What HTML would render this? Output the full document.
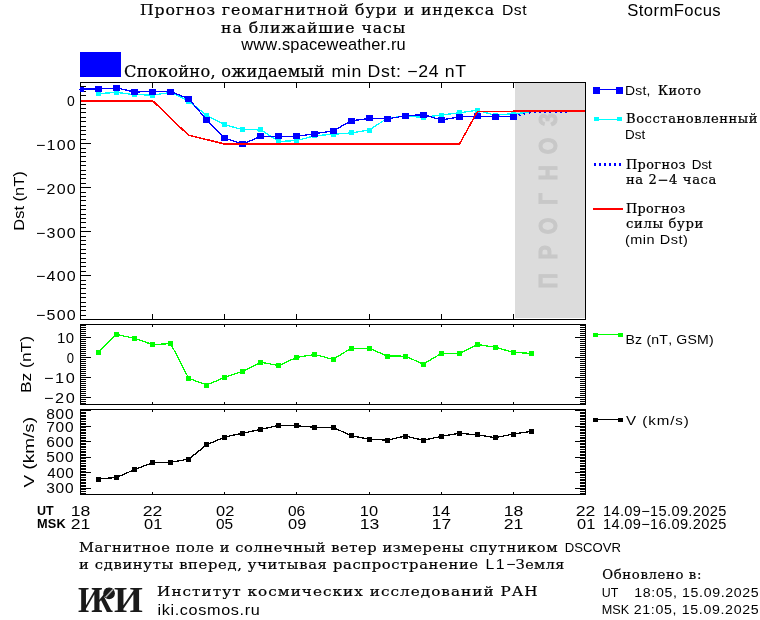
<!DOCTYPE html>
<html><head><meta charset="utf-8"><title>StormFocus</title>
<style>html,body{margin:0;padding:0;background:#fff;width:760px;height:620px;overflow:hidden}svg{display:block}text{font-kerning:none}</style>
</head><body>
<svg width="760" height="620" viewBox="0 0 760 620" shape-rendering="crispEdges">
<rect x="0" y="0" width="760" height="620" fill="#fff"/>
<rect x="515" y="83" width="70" height="235" fill="#dcdcdc"/>
<text transform="translate(557,288) rotate(-90) scale(0.82,1)" x="8.84 43.54 75.73 108.54 140.55 173.17 205.49" y="0" text-anchor="middle" font-family="Liberation Sans, sans-serif" font-weight="bold" font-size="26" fill="#c8c8c8" stroke="#c8c8c8" stroke-width="1">ПРОГНОЗ</text>
<defs><clipPath id="cd"><rect x="80" y="82" width="506" height="238"/></clipPath></defs>
<g clip-path="url(#cd)">
<polyline points="98.5,93.6 116.5,92.4 134.6,94.7 152.6,95.0 170.7,92.5 188.7,101.0 206.7,115.5 224.8,124.7 242.8,129.7 260.9,129.9 278.9,141.5 296.9,140.5 315.0,135.7 333.0,134.3 351.1,132.9 369.1,130.0 387.1,118.4 405.2,116.0 423.2,117.4 441.3,115.0 459.3,112.8 477.3,110.3 495.4,115.3 513.4,113.5 531.5,112.5" fill="none" stroke="#00ffff" stroke-width="1.3"/>
<rect x="96" y="91" width="5" height="5" fill="#00ffff"/>
<rect x="114" y="90" width="5" height="5" fill="#00ffff"/>
<rect x="132" y="92" width="5" height="5" fill="#00ffff"/>
<rect x="150" y="93" width="5" height="5" fill="#00ffff"/>
<rect x="168" y="90" width="5" height="5" fill="#00ffff"/>
<rect x="186" y="99" width="5" height="5" fill="#00ffff"/>
<rect x="204" y="113" width="5" height="5" fill="#00ffff"/>
<rect x="222" y="122" width="5" height="5" fill="#00ffff"/>
<rect x="240" y="127" width="5" height="5" fill="#00ffff"/>
<rect x="258" y="127" width="5" height="5" fill="#00ffff"/>
<rect x="276" y="139" width="5" height="5" fill="#00ffff"/>
<rect x="294" y="138" width="5" height="5" fill="#00ffff"/>
<rect x="312" y="133" width="5" height="5" fill="#00ffff"/>
<rect x="331" y="132" width="5" height="5" fill="#00ffff"/>
<rect x="349" y="130" width="5" height="5" fill="#00ffff"/>
<rect x="367" y="128" width="5" height="5" fill="#00ffff"/>
<rect x="385" y="116" width="5" height="5" fill="#00ffff"/>
<rect x="403" y="114" width="5" height="5" fill="#00ffff"/>
<rect x="421" y="115" width="5" height="5" fill="#00ffff"/>
<rect x="439" y="113" width="5" height="5" fill="#00ffff"/>
<rect x="457" y="110" width="5" height="5" fill="#00ffff"/>
<rect x="475" y="108" width="5" height="5" fill="#00ffff"/>
<rect x="493" y="113" width="5" height="5" fill="#00ffff"/>
<rect x="511" y="111" width="5" height="5" fill="#00ffff"/>
<polyline points="80.5,89.0 98.5,89.1 116.5,87.9 134.6,92.0 152.6,91.5 170.7,91.5 188.7,98.9 206.7,119.8 224.8,138.0 242.8,144.1 260.9,136.3 278.9,136.3 296.9,136.4 315.0,133.5 333.0,131.0 351.1,120.9 369.1,118.4 387.1,118.9 405.2,115.9 423.2,114.6 441.3,119.9 459.3,116.9 477.3,116.4 495.4,116.9 513.4,116.6" fill="none" stroke="#0000ff" stroke-width="1.3"/>
<rect x="77" y="86" width="7" height="6" fill="#0000ff"/>
<rect x="95" y="86" width="7" height="6" fill="#0000ff"/>
<rect x="113" y="85" width="7" height="6" fill="#0000ff"/>
<rect x="131" y="89" width="7" height="6" fill="#0000ff"/>
<rect x="149" y="89" width="7" height="6" fill="#0000ff"/>
<rect x="167" y="89" width="7" height="6" fill="#0000ff"/>
<rect x="185" y="96" width="7" height="6" fill="#0000ff"/>
<rect x="203" y="117" width="7" height="6" fill="#0000ff"/>
<rect x="221" y="135" width="7" height="6" fill="#0000ff"/>
<rect x="239" y="141" width="7" height="6" fill="#0000ff"/>
<rect x="257" y="133" width="7" height="6" fill="#0000ff"/>
<rect x="275" y="133" width="7" height="6" fill="#0000ff"/>
<rect x="293" y="133" width="7" height="6" fill="#0000ff"/>
<rect x="311" y="131" width="7" height="6" fill="#0000ff"/>
<rect x="330" y="128" width="7" height="6" fill="#0000ff"/>
<rect x="348" y="118" width="7" height="6" fill="#0000ff"/>
<rect x="366" y="115" width="7" height="6" fill="#0000ff"/>
<rect x="384" y="116" width="7" height="6" fill="#0000ff"/>
<rect x="402" y="113" width="7" height="6" fill="#0000ff"/>
<rect x="420" y="112" width="7" height="6" fill="#0000ff"/>
<rect x="438" y="117" width="7" height="6" fill="#0000ff"/>
<rect x="456" y="114" width="7" height="6" fill="#0000ff"/>
<rect x="474" y="113" width="7" height="6" fill="#0000ff"/>
<rect x="492" y="114" width="7" height="6" fill="#0000ff"/>
<rect x="510" y="114" width="7" height="6" fill="#0000ff"/>
<polyline points="80.0,100.5 152.4,100.5 170.5,118.0 188.3,135.0 224.5,144.0 459.5,144.0 477.4,111.5 513.0,111.3 585.0,110.8" fill="none" stroke="#ff0000" stroke-width="1.5"/>
<rect x="80" y="100" width="73" height="2" fill="#ff0000"/>
<rect x="224" y="143" width="236" height="2" fill="#ff0000"/>
<rect x="478" y="111" width="36" height="1" fill="#ff0000"/>
<rect x="513" y="110" width="72" height="2" fill="#ff0000"/>
<polyline points="513.4,116.4 531.5,112.4 549.5,112.3 567.5,112.3" fill="none" stroke="#0000ff" stroke-width="1.5" stroke-dasharray="2 3.2"/>
</g>
<polyline points="98.5,352.0 116.5,334.5 134.6,338.3 152.6,344.6 170.7,343.6 188.7,378.3 206.7,385.0 224.8,377.3 242.8,371.4 260.9,362.3 278.9,365.5 296.9,357.3 315.0,354.5 333.0,359.4 351.1,348.2 369.1,348.2 387.1,356.0 405.2,356.2 423.2,364.0 441.3,353.5 459.3,353.5 477.3,344.4 495.4,347.3 513.4,352.4 531.5,353.4" fill="none" stroke="#00ff00" stroke-width="1.3"/>
<rect x="96" y="350" width="5" height="5" fill="#00ff00"/>
<rect x="114" y="332" width="5" height="5" fill="#00ff00"/>
<rect x="132" y="336" width="5" height="5" fill="#00ff00"/>
<rect x="150" y="342" width="5" height="5" fill="#00ff00"/>
<rect x="168" y="341" width="5" height="5" fill="#00ff00"/>
<rect x="186" y="376" width="5" height="5" fill="#00ff00"/>
<rect x="204" y="383" width="5" height="5" fill="#00ff00"/>
<rect x="222" y="375" width="5" height="5" fill="#00ff00"/>
<rect x="240" y="369" width="5" height="5" fill="#00ff00"/>
<rect x="258" y="360" width="5" height="5" fill="#00ff00"/>
<rect x="276" y="363" width="5" height="5" fill="#00ff00"/>
<rect x="294" y="355" width="5" height="5" fill="#00ff00"/>
<rect x="312" y="352" width="5" height="5" fill="#00ff00"/>
<rect x="331" y="357" width="5" height="5" fill="#00ff00"/>
<rect x="349" y="346" width="5" height="5" fill="#00ff00"/>
<rect x="367" y="346" width="5" height="5" fill="#00ff00"/>
<rect x="385" y="354" width="5" height="5" fill="#00ff00"/>
<rect x="403" y="354" width="5" height="5" fill="#00ff00"/>
<rect x="421" y="362" width="5" height="5" fill="#00ff00"/>
<rect x="439" y="351" width="5" height="5" fill="#00ff00"/>
<rect x="457" y="351" width="5" height="5" fill="#00ff00"/>
<rect x="475" y="342" width="5" height="5" fill="#00ff00"/>
<rect x="493" y="345" width="5" height="5" fill="#00ff00"/>
<rect x="511" y="350" width="5" height="5" fill="#00ff00"/>
<rect x="529" y="351" width="5" height="5" fill="#00ff00"/>
<polyline points="98.5,479.1 116.5,477.4 134.6,469.6 152.6,462.7 170.7,462.3 188.7,459.1 206.7,444.8 224.8,437.0 242.8,433.2 260.9,429.4 278.9,425.4 296.9,425.8 315.0,427.3 333.0,427.3 351.1,435.7 369.1,439.1 387.1,440.2 405.2,436.0 423.2,440.2 441.3,436.4 459.3,433.2 477.3,434.9 495.4,437.6 513.4,434.0 531.5,431.3" fill="none" stroke="#000" stroke-width="1.3"/>
<rect x="96" y="477" width="5" height="5" fill="#000"/>
<rect x="114" y="475" width="5" height="5" fill="#000"/>
<rect x="132" y="467" width="5" height="5" fill="#000"/>
<rect x="150" y="460" width="5" height="5" fill="#000"/>
<rect x="168" y="460" width="5" height="5" fill="#000"/>
<rect x="186" y="457" width="5" height="5" fill="#000"/>
<rect x="204" y="442" width="5" height="5" fill="#000"/>
<rect x="222" y="435" width="5" height="5" fill="#000"/>
<rect x="240" y="431" width="5" height="5" fill="#000"/>
<rect x="258" y="427" width="5" height="5" fill="#000"/>
<rect x="276" y="423" width="5" height="5" fill="#000"/>
<rect x="294" y="423" width="5" height="5" fill="#000"/>
<rect x="312" y="425" width="5" height="5" fill="#000"/>
<rect x="331" y="425" width="5" height="5" fill="#000"/>
<rect x="349" y="433" width="5" height="5" fill="#000"/>
<rect x="367" y="437" width="5" height="5" fill="#000"/>
<rect x="385" y="438" width="5" height="5" fill="#000"/>
<rect x="403" y="434" width="5" height="5" fill="#000"/>
<rect x="421" y="438" width="5" height="5" fill="#000"/>
<rect x="439" y="434" width="5" height="5" fill="#000"/>
<rect x="457" y="431" width="5" height="5" fill="#000"/>
<rect x="475" y="432" width="5" height="5" fill="#000"/>
<rect x="493" y="435" width="5" height="5" fill="#000"/>
<rect x="511" y="432" width="5" height="5" fill="#000"/>
<rect x="529" y="429" width="5" height="5" fill="#000"/>
<rect x="80" y="82" width="506" height="1" fill="#000"/>
<rect x="80" y="319" width="506" height="1" fill="#000"/>
<rect x="80" y="82" width="1" height="238" fill="#000"/>
<rect x="585" y="82" width="1" height="238" fill="#000"/>
<rect x="80" y="324" width="506" height="1" fill="#000"/>
<rect x="80" y="404" width="506" height="1" fill="#000"/>
<rect x="80" y="324" width="1" height="81" fill="#000"/>
<rect x="585" y="324" width="1" height="81" fill="#000"/>
<rect x="80" y="409" width="506" height="1" fill="#000"/>
<rect x="80" y="494" width="506" height="1" fill="#000"/>
<rect x="80" y="409" width="1" height="86" fill="#000"/>
<rect x="585" y="409" width="1" height="86" fill="#000"/>
<rect x="152" y="83" width="1" height="5" fill="#000"/>
<rect x="152" y="314" width="1" height="5" fill="#000"/>
<rect x="152" y="325" width="1" height="2" fill="#000"/>
<rect x="152" y="402" width="1" height="2" fill="#000"/>
<rect x="152" y="410" width="1" height="2" fill="#000"/>
<rect x="152" y="492" width="1" height="2" fill="#000"/>
<rect x="224" y="83" width="1" height="5" fill="#000"/>
<rect x="224" y="314" width="1" height="5" fill="#000"/>
<rect x="224" y="325" width="1" height="2" fill="#000"/>
<rect x="224" y="402" width="1" height="2" fill="#000"/>
<rect x="224" y="410" width="1" height="2" fill="#000"/>
<rect x="224" y="492" width="1" height="2" fill="#000"/>
<rect x="296" y="83" width="1" height="5" fill="#000"/>
<rect x="296" y="314" width="1" height="5" fill="#000"/>
<rect x="296" y="325" width="1" height="2" fill="#000"/>
<rect x="296" y="402" width="1" height="2" fill="#000"/>
<rect x="296" y="410" width="1" height="2" fill="#000"/>
<rect x="296" y="492" width="1" height="2" fill="#000"/>
<rect x="369" y="83" width="1" height="5" fill="#000"/>
<rect x="369" y="314" width="1" height="5" fill="#000"/>
<rect x="369" y="325" width="1" height="2" fill="#000"/>
<rect x="369" y="402" width="1" height="2" fill="#000"/>
<rect x="369" y="410" width="1" height="2" fill="#000"/>
<rect x="369" y="492" width="1" height="2" fill="#000"/>
<rect x="441" y="83" width="1" height="5" fill="#000"/>
<rect x="441" y="314" width="1" height="5" fill="#000"/>
<rect x="441" y="325" width="1" height="2" fill="#000"/>
<rect x="441" y="402" width="1" height="2" fill="#000"/>
<rect x="441" y="410" width="1" height="2" fill="#000"/>
<rect x="441" y="492" width="1" height="2" fill="#000"/>
<rect x="513" y="83" width="1" height="5" fill="#000"/>
<rect x="513" y="314" width="1" height="5" fill="#000"/>
<rect x="513" y="325" width="1" height="2" fill="#000"/>
<rect x="513" y="402" width="1" height="2" fill="#000"/>
<rect x="513" y="410" width="1" height="2" fill="#000"/>
<rect x="513" y="492" width="1" height="2" fill="#000"/>
<rect x="80" y="86" width="6" height="1" fill="#000"/>
<rect x="80" y="91" width="6" height="1" fill="#000"/>
<rect x="80" y="95" width="6" height="1" fill="#000"/>
<rect x="80" y="104" width="6" height="1" fill="#000"/>
<rect x="80" y="108" width="6" height="1" fill="#000"/>
<rect x="80" y="112" width="6" height="1" fill="#000"/>
<rect x="80" y="117" width="6" height="1" fill="#000"/>
<rect x="80" y="121" width="6" height="1" fill="#000"/>
<rect x="80" y="126" width="6" height="1" fill="#000"/>
<rect x="80" y="130" width="6" height="1" fill="#000"/>
<rect x="80" y="134" width="6" height="1" fill="#000"/>
<rect x="80" y="139" width="6" height="1" fill="#000"/>
<rect x="80" y="143" width="11" height="1" fill="#000"/>
<rect x="80" y="148" width="6" height="1" fill="#000"/>
<rect x="80" y="152" width="6" height="1" fill="#000"/>
<rect x="80" y="156" width="6" height="1" fill="#000"/>
<rect x="80" y="161" width="6" height="1" fill="#000"/>
<rect x="80" y="165" width="6" height="1" fill="#000"/>
<rect x="80" y="170" width="6" height="1" fill="#000"/>
<rect x="80" y="174" width="6" height="1" fill="#000"/>
<rect x="80" y="178" width="6" height="1" fill="#000"/>
<rect x="80" y="183" width="6" height="1" fill="#000"/>
<rect x="80" y="187" width="11" height="1" fill="#000"/>
<rect x="80" y="192" width="6" height="1" fill="#000"/>
<rect x="80" y="196" width="6" height="1" fill="#000"/>
<rect x="80" y="200" width="6" height="1" fill="#000"/>
<rect x="80" y="205" width="6" height="1" fill="#000"/>
<rect x="80" y="209" width="6" height="1" fill="#000"/>
<rect x="80" y="214" width="6" height="1" fill="#000"/>
<rect x="80" y="218" width="6" height="1" fill="#000"/>
<rect x="80" y="222" width="6" height="1" fill="#000"/>
<rect x="80" y="227" width="6" height="1" fill="#000"/>
<rect x="80" y="231" width="11" height="1" fill="#000"/>
<rect x="80" y="236" width="6" height="1" fill="#000"/>
<rect x="80" y="240" width="6" height="1" fill="#000"/>
<rect x="80" y="244" width="6" height="1" fill="#000"/>
<rect x="80" y="249" width="6" height="1" fill="#000"/>
<rect x="80" y="253" width="6" height="1" fill="#000"/>
<rect x="80" y="258" width="6" height="1" fill="#000"/>
<rect x="80" y="262" width="6" height="1" fill="#000"/>
<rect x="80" y="266" width="6" height="1" fill="#000"/>
<rect x="80" y="271" width="6" height="1" fill="#000"/>
<rect x="80" y="275" width="11" height="1" fill="#000"/>
<rect x="80" y="280" width="6" height="1" fill="#000"/>
<rect x="80" y="284" width="6" height="1" fill="#000"/>
<rect x="80" y="288" width="6" height="1" fill="#000"/>
<rect x="80" y="293" width="6" height="1" fill="#000"/>
<rect x="80" y="297" width="6" height="1" fill="#000"/>
<rect x="80" y="302" width="6" height="1" fill="#000"/>
<rect x="80" y="306" width="6" height="1" fill="#000"/>
<rect x="80" y="310" width="6" height="1" fill="#000"/>
<rect x="80" y="315" width="6" height="1" fill="#000"/>
<rect x="80" y="325" width="6" height="1" fill="#000"/>
<rect x="580" y="325" width="6" height="1" fill="#000"/>
<rect x="80" y="327" width="6" height="1" fill="#000"/>
<rect x="580" y="327" width="6" height="1" fill="#000"/>
<rect x="80" y="329" width="6" height="1" fill="#000"/>
<rect x="580" y="329" width="6" height="1" fill="#000"/>
<rect x="80" y="331" width="6" height="1" fill="#000"/>
<rect x="580" y="331" width="6" height="1" fill="#000"/>
<rect x="80" y="333" width="6" height="1" fill="#000"/>
<rect x="580" y="333" width="6" height="1" fill="#000"/>
<rect x="80" y="335" width="6" height="1" fill="#000"/>
<rect x="580" y="335" width="6" height="1" fill="#000"/>
<rect x="80" y="337" width="11" height="1" fill="#000"/>
<rect x="575" y="337" width="11" height="1" fill="#000"/>
<rect x="80" y="339" width="6" height="1" fill="#000"/>
<rect x="580" y="339" width="6" height="1" fill="#000"/>
<rect x="80" y="341" width="6" height="1" fill="#000"/>
<rect x="580" y="341" width="6" height="1" fill="#000"/>
<rect x="80" y="343" width="6" height="1" fill="#000"/>
<rect x="580" y="343" width="6" height="1" fill="#000"/>
<rect x="80" y="345" width="6" height="1" fill="#000"/>
<rect x="580" y="345" width="6" height="1" fill="#000"/>
<rect x="80" y="347" width="6" height="1" fill="#000"/>
<rect x="580" y="347" width="6" height="1" fill="#000"/>
<rect x="80" y="349" width="6" height="1" fill="#000"/>
<rect x="580" y="349" width="6" height="1" fill="#000"/>
<rect x="80" y="351" width="6" height="1" fill="#000"/>
<rect x="580" y="351" width="6" height="1" fill="#000"/>
<rect x="80" y="353" width="6" height="1" fill="#000"/>
<rect x="580" y="353" width="6" height="1" fill="#000"/>
<rect x="80" y="355" width="6" height="1" fill="#000"/>
<rect x="580" y="355" width="6" height="1" fill="#000"/>
<rect x="80" y="357" width="11" height="1" fill="#000"/>
<rect x="575" y="357" width="11" height="1" fill="#000"/>
<rect x="80" y="359" width="6" height="1" fill="#000"/>
<rect x="580" y="359" width="6" height="1" fill="#000"/>
<rect x="80" y="361" width="6" height="1" fill="#000"/>
<rect x="580" y="361" width="6" height="1" fill="#000"/>
<rect x="80" y="363" width="6" height="1" fill="#000"/>
<rect x="580" y="363" width="6" height="1" fill="#000"/>
<rect x="80" y="365" width="6" height="1" fill="#000"/>
<rect x="580" y="365" width="6" height="1" fill="#000"/>
<rect x="80" y="367" width="6" height="1" fill="#000"/>
<rect x="580" y="367" width="6" height="1" fill="#000"/>
<rect x="80" y="369" width="6" height="1" fill="#000"/>
<rect x="580" y="369" width="6" height="1" fill="#000"/>
<rect x="80" y="371" width="6" height="1" fill="#000"/>
<rect x="580" y="371" width="6" height="1" fill="#000"/>
<rect x="80" y="373" width="6" height="1" fill="#000"/>
<rect x="580" y="373" width="6" height="1" fill="#000"/>
<rect x="80" y="375" width="6" height="1" fill="#000"/>
<rect x="580" y="375" width="6" height="1" fill="#000"/>
<rect x="80" y="377" width="11" height="1" fill="#000"/>
<rect x="575" y="377" width="11" height="1" fill="#000"/>
<rect x="80" y="379" width="6" height="1" fill="#000"/>
<rect x="580" y="379" width="6" height="1" fill="#000"/>
<rect x="80" y="381" width="6" height="1" fill="#000"/>
<rect x="580" y="381" width="6" height="1" fill="#000"/>
<rect x="80" y="383" width="6" height="1" fill="#000"/>
<rect x="580" y="383" width="6" height="1" fill="#000"/>
<rect x="80" y="385" width="6" height="1" fill="#000"/>
<rect x="580" y="385" width="6" height="1" fill="#000"/>
<rect x="80" y="387" width="6" height="1" fill="#000"/>
<rect x="580" y="387" width="6" height="1" fill="#000"/>
<rect x="80" y="389" width="6" height="1" fill="#000"/>
<rect x="580" y="389" width="6" height="1" fill="#000"/>
<rect x="80" y="391" width="6" height="1" fill="#000"/>
<rect x="580" y="391" width="6" height="1" fill="#000"/>
<rect x="80" y="393" width="6" height="1" fill="#000"/>
<rect x="580" y="393" width="6" height="1" fill="#000"/>
<rect x="80" y="395" width="6" height="1" fill="#000"/>
<rect x="580" y="395" width="6" height="1" fill="#000"/>
<rect x="80" y="397" width="11" height="1" fill="#000"/>
<rect x="575" y="397" width="11" height="1" fill="#000"/>
<rect x="80" y="399" width="6" height="1" fill="#000"/>
<rect x="580" y="399" width="6" height="1" fill="#000"/>
<rect x="80" y="401" width="6" height="1" fill="#000"/>
<rect x="580" y="401" width="6" height="1" fill="#000"/>
<rect x="80" y="403" width="6" height="1" fill="#000"/>
<rect x="580" y="403" width="6" height="1" fill="#000"/>
<rect x="80" y="409" width="6" height="1" fill="#000"/>
<rect x="580" y="409" width="6" height="1" fill="#000"/>
<rect x="80" y="410" width="11" height="1" fill="#000"/>
<rect x="575" y="410" width="11" height="1" fill="#000"/>
<rect x="80" y="412" width="6" height="1" fill="#000"/>
<rect x="580" y="412" width="6" height="1" fill="#000"/>
<rect x="80" y="413" width="6" height="1" fill="#000"/>
<rect x="580" y="413" width="6" height="1" fill="#000"/>
<rect x="80" y="415" width="6" height="1" fill="#000"/>
<rect x="580" y="415" width="6" height="1" fill="#000"/>
<rect x="80" y="416" width="6" height="1" fill="#000"/>
<rect x="580" y="416" width="6" height="1" fill="#000"/>
<rect x="80" y="418" width="6" height="1" fill="#000"/>
<rect x="580" y="418" width="6" height="1" fill="#000"/>
<rect x="80" y="419" width="6" height="1" fill="#000"/>
<rect x="580" y="419" width="6" height="1" fill="#000"/>
<rect x="80" y="421" width="6" height="1" fill="#000"/>
<rect x="580" y="421" width="6" height="1" fill="#000"/>
<rect x="80" y="423" width="6" height="1" fill="#000"/>
<rect x="580" y="423" width="6" height="1" fill="#000"/>
<rect x="80" y="424" width="6" height="1" fill="#000"/>
<rect x="580" y="424" width="6" height="1" fill="#000"/>
<rect x="80" y="426" width="11" height="1" fill="#000"/>
<rect x="575" y="426" width="11" height="1" fill="#000"/>
<rect x="80" y="427" width="6" height="1" fill="#000"/>
<rect x="580" y="427" width="6" height="1" fill="#000"/>
<rect x="80" y="429" width="6" height="1" fill="#000"/>
<rect x="580" y="429" width="6" height="1" fill="#000"/>
<rect x="80" y="430" width="6" height="1" fill="#000"/>
<rect x="580" y="430" width="6" height="1" fill="#000"/>
<rect x="80" y="432" width="6" height="1" fill="#000"/>
<rect x="580" y="432" width="6" height="1" fill="#000"/>
<rect x="80" y="433" width="6" height="1" fill="#000"/>
<rect x="580" y="433" width="6" height="1" fill="#000"/>
<rect x="80" y="435" width="6" height="1" fill="#000"/>
<rect x="580" y="435" width="6" height="1" fill="#000"/>
<rect x="80" y="437" width="6" height="1" fill="#000"/>
<rect x="580" y="437" width="6" height="1" fill="#000"/>
<rect x="80" y="438" width="6" height="1" fill="#000"/>
<rect x="580" y="438" width="6" height="1" fill="#000"/>
<rect x="80" y="440" width="6" height="1" fill="#000"/>
<rect x="580" y="440" width="6" height="1" fill="#000"/>
<rect x="80" y="441" width="11" height="1" fill="#000"/>
<rect x="575" y="441" width="11" height="1" fill="#000"/>
<rect x="80" y="443" width="6" height="1" fill="#000"/>
<rect x="580" y="443" width="6" height="1" fill="#000"/>
<rect x="80" y="444" width="6" height="1" fill="#000"/>
<rect x="580" y="444" width="6" height="1" fill="#000"/>
<rect x="80" y="446" width="6" height="1" fill="#000"/>
<rect x="580" y="446" width="6" height="1" fill="#000"/>
<rect x="80" y="447" width="6" height="1" fill="#000"/>
<rect x="580" y="447" width="6" height="1" fill="#000"/>
<rect x="80" y="449" width="6" height="1" fill="#000"/>
<rect x="580" y="449" width="6" height="1" fill="#000"/>
<rect x="80" y="451" width="6" height="1" fill="#000"/>
<rect x="580" y="451" width="6" height="1" fill="#000"/>
<rect x="80" y="452" width="6" height="1" fill="#000"/>
<rect x="580" y="452" width="6" height="1" fill="#000"/>
<rect x="80" y="454" width="6" height="1" fill="#000"/>
<rect x="580" y="454" width="6" height="1" fill="#000"/>
<rect x="80" y="455" width="6" height="1" fill="#000"/>
<rect x="580" y="455" width="6" height="1" fill="#000"/>
<rect x="80" y="457" width="11" height="1" fill="#000"/>
<rect x="575" y="457" width="11" height="1" fill="#000"/>
<rect x="80" y="458" width="6" height="1" fill="#000"/>
<rect x="580" y="458" width="6" height="1" fill="#000"/>
<rect x="80" y="460" width="6" height="1" fill="#000"/>
<rect x="580" y="460" width="6" height="1" fill="#000"/>
<rect x="80" y="461" width="6" height="1" fill="#000"/>
<rect x="580" y="461" width="6" height="1" fill="#000"/>
<rect x="80" y="463" width="6" height="1" fill="#000"/>
<rect x="580" y="463" width="6" height="1" fill="#000"/>
<rect x="80" y="465" width="6" height="1" fill="#000"/>
<rect x="580" y="465" width="6" height="1" fill="#000"/>
<rect x="80" y="466" width="6" height="1" fill="#000"/>
<rect x="580" y="466" width="6" height="1" fill="#000"/>
<rect x="80" y="468" width="6" height="1" fill="#000"/>
<rect x="580" y="468" width="6" height="1" fill="#000"/>
<rect x="80" y="469" width="6" height="1" fill="#000"/>
<rect x="580" y="469" width="6" height="1" fill="#000"/>
<rect x="80" y="471" width="6" height="1" fill="#000"/>
<rect x="580" y="471" width="6" height="1" fill="#000"/>
<rect x="80" y="472" width="11" height="1" fill="#000"/>
<rect x="575" y="472" width="11" height="1" fill="#000"/>
<rect x="80" y="474" width="6" height="1" fill="#000"/>
<rect x="580" y="474" width="6" height="1" fill="#000"/>
<rect x="80" y="475" width="6" height="1" fill="#000"/>
<rect x="580" y="475" width="6" height="1" fill="#000"/>
<rect x="80" y="477" width="6" height="1" fill="#000"/>
<rect x="580" y="477" width="6" height="1" fill="#000"/>
<rect x="80" y="479" width="6" height="1" fill="#000"/>
<rect x="580" y="479" width="6" height="1" fill="#000"/>
<rect x="80" y="480" width="6" height="1" fill="#000"/>
<rect x="580" y="480" width="6" height="1" fill="#000"/>
<rect x="80" y="482" width="6" height="1" fill="#000"/>
<rect x="580" y="482" width="6" height="1" fill="#000"/>
<rect x="80" y="483" width="6" height="1" fill="#000"/>
<rect x="580" y="483" width="6" height="1" fill="#000"/>
<rect x="80" y="485" width="6" height="1" fill="#000"/>
<rect x="580" y="485" width="6" height="1" fill="#000"/>
<rect x="80" y="486" width="6" height="1" fill="#000"/>
<rect x="580" y="486" width="6" height="1" fill="#000"/>
<rect x="80" y="488" width="11" height="1" fill="#000"/>
<rect x="575" y="488" width="11" height="1" fill="#000"/>
<rect x="80" y="489" width="6" height="1" fill="#000"/>
<rect x="580" y="489" width="6" height="1" fill="#000"/>
<rect x="80" y="491" width="6" height="1" fill="#000"/>
<rect x="580" y="491" width="6" height="1" fill="#000"/>
<rect x="80" y="493" width="6" height="1" fill="#000"/>
<rect x="580" y="493" width="6" height="1" fill="#000"/>
<rect x="80" y="87" width="4" height="5" fill="#0000ff"/>
<rect x="79" y="89" width="1" height="1" fill="#0000ff"/>
<rect x="80" y="52" width="41" height="25" fill="#0000ff"/>
<rect x="593" y="87" width="7" height="7" fill="#0000ff"/>
<rect x="616" y="87" width="7" height="7" fill="#0000ff"/>
<rect x="600" y="89" width="16" height="1" fill="#0000ff"/>
<rect x="594" y="117" width="5" height="4" fill="#00ffff"/>
<rect x="617" y="117" width="5" height="4" fill="#00ffff"/>
<rect x="599" y="119" width="18" height="1" fill="#00ffff"/>
<rect x="594" y="163" width="2" height="3" fill="#0000ff"/>
<rect x="599" y="163" width="2" height="3" fill="#0000ff"/>
<rect x="604" y="163" width="2" height="3" fill="#0000ff"/>
<rect x="609" y="163" width="2" height="3" fill="#0000ff"/>
<rect x="614" y="163" width="2" height="3" fill="#0000ff"/>
<rect x="619" y="163" width="2" height="3" fill="#0000ff"/>
<rect x="593" y="208" width="30" height="2" fill="#ff0000"/>
<rect x="593" y="333" width="5" height="4" fill="#00ff00"/>
<rect x="618" y="333" width="5" height="4" fill="#00ff00"/>
<rect x="598" y="334" width="20" height="1" fill="#00ff00"/>
<rect x="593" y="418" width="5" height="4" fill="#000"/>
<rect x="618" y="418" width="5" height="4" fill="#000"/>
<rect x="598" y="419" width="20" height="1" fill="#000"/>
<text transform="translate(78,612) scale(0.87,1)" x="0" y="0" font-family="Liberation Serif, serif" font-weight="bold" font-size="36" fill="#1a1a1a">И</text>
<text transform="translate(92,612) scale(0.8,1)" x="0" y="0" font-family="Liberation Serif, serif" font-weight="bold" font-size="36" fill="#1a1a1a">К</text>
<text transform="translate(114,612) scale(1.03,1)" x="0" y="0" font-family="Liberation Serif, serif" font-weight="bold" font-size="36" fill="#1a1a1a">И</text>
<circle cx="109.1" cy="593.4" r="5.8" fill="#1a1a1a" shape-rendering="auto"/>
<line x1="105.6" y1="597.2" x2="112.9" y2="589.6" stroke="#b4b4b4" stroke-width="1.5" shape-rendering="auto"/>
<text transform="translate(141.00,0) scale(1.0920,1)" x="-1" y="15" font-family="'DejaVu Serif', serif" font-size="14.4" font-weight="normal" stroke="#000" stroke-width="0.2" textLength="324.36" lengthAdjust="spacing">Прогноз геомагнитной бури и индекса</text>
<text transform="translate(221.00,0) scale(1.0895,1)" x="0" y="33" font-family="'DejaVu Serif', serif" font-size="14.4" font-weight="normal" stroke="#000" stroke-width="0.2" textLength="169.11" lengthAdjust="spacing">на ближайшие часы</text>
<text transform="translate(125.00,0) scale(1.0261,1)" x="-1" y="77" font-family="'DejaVu Serif', serif" font-size="15.8" font-weight="normal" stroke="#000" stroke-width="0.2" textLength="195.51" lengthAdjust="spacing">Спокойно, ожидаемый</text>
<text transform="translate(658.00,0) scale(1.0451,1)" x="0" y="95" font-family="'DejaVu Serif', serif" font-size="12.3" font-weight="normal" stroke="#000" stroke-width="0.2" textLength="41.09" lengthAdjust="spacing">Киото</text>
<text transform="translate(626.00,0) scale(1.0635,1)" x="0" y="123.5" font-family="'DejaVu Serif', serif" font-size="12.3" font-weight="normal" stroke="#000" stroke-width="0.2" textLength="123.71" lengthAdjust="spacing">Восстановленный</text>
<text transform="translate(626.00,0) scale(1.0435,1)" x="0" y="169" font-family="'DejaVu Serif', serif" font-size="12.3" font-weight="normal" stroke="#000" stroke-width="0.2" textLength="57.10" lengthAdjust="spacing">Прогноз</text>
<text transform="translate(626.00,0) scale(1.0697,1)" x="0" y="184" font-family="'DejaVu Serif', serif" font-size="12.3" font-weight="normal" stroke="#000" stroke-width="0.2" textLength="84.49" lengthAdjust="spacing">на 2&#8722;4 часа</text>
<text transform="translate(626.00,0) scale(1.0399,1)" x="0" y="213.5" font-family="'DejaVu Serif', serif" font-size="12.3" font-weight="normal" stroke="#000" stroke-width="0.2" textLength="56.91" lengthAdjust="spacing">Прогноз</text>
<text transform="translate(626.00,0) scale(1.0720,1)" x="0" y="228" font-family="'DejaVu Serif', serif" font-size="12.3" font-weight="normal" stroke="#000" stroke-width="0.2" textLength="72.12" lengthAdjust="spacing">силы бури</text>
<text transform="translate(79.00,0) scale(1.0668,1)" x="0" y="552" font-family="'DejaVu Serif', serif" font-size="13.7" font-weight="normal" stroke="#000" stroke-width="0.2" textLength="448.66" lengthAdjust="spacing">Магнитное поле и солнечный ветер измерены спутником</text>
<text transform="translate(79.00,0) scale(1.0751,1)" x="0" y="569" font-family="'DejaVu Serif', serif" font-size="13.7" font-weight="normal" stroke="#000" stroke-width="0.2" textLength="371.22" lengthAdjust="spacing">и сдвинуты вперед, учитывая распространение</text>
<text transform="translate(516.80,0) scale(1.0433,1)" x="-1" y="569" font-family="'DejaVu Serif', serif" font-size="13.7" font-weight="normal" stroke="#000" stroke-width="0.2" textLength="46.47" lengthAdjust="spacing">Земля</text>
<text transform="translate(158.20,0) scale(1.1104,1)" x="-1" y="596" font-family="'DejaVu Serif', serif" font-size="13.7" font-weight="normal" stroke="#000" stroke-width="0.2" textLength="342.66" lengthAdjust="spacing">Институт космических исследований РАН</text>
<text transform="translate(602.30,0) scale(1.0763,1)" x="0" y="579" font-family="'DejaVu Serif', serif" font-size="12.3" font-weight="normal" stroke="#000" stroke-width="0.2" textLength="92.08" lengthAdjust="spacing">Обновлено в:</text>
<text transform="translate(503.00,0) scale(1.0465,1)" x="-1" y="15" font-family="'Liberation Sans', Arial, sans-serif" font-size="15" font-weight="normal"  textLength="23.48" lengthAdjust="spacing">Dst</text>
<text transform="translate(241.20,0) scale(1.0280,1)" x="0" y="50" font-family="'Liberation Sans', Arial, sans-serif" font-size="16" font-weight="normal"  textLength="159.98" lengthAdjust="spacing">www.spaceweather.ru</text>
<text transform="translate(628.30,0) scale(1.0409,1)" x="-1" y="16" font-family="'Liberation Sans', Arial, sans-serif" font-size="16" font-weight="normal"  textLength="89.73" lengthAdjust="spacing">StormFocus</text>
<text transform="translate(332.50,0) scale(1.0738,1)" x="-1" y="77" font-family="'Liberation Sans', Arial, sans-serif" font-size="16.5" font-weight="normal"  textLength="125.48" lengthAdjust="spacing">min Dst: &#8722;24 nT</text>
<text transform="translate(626.00,0) scale(1.0313,1)" x="-1" y="95" font-family="'Liberation Sans', Arial, sans-serif" font-size="13.5" font-weight="normal"  textLength="24.70" lengthAdjust="spacing">Dst,</text>
<text transform="translate(626.00,0) scale(0.9947,1)" x="-1" y="139.5" font-family="'Liberation Sans', Arial, sans-serif" font-size="13.5" font-weight="normal"  textLength="20.25" lengthAdjust="spacing">Dst</text>
<text transform="translate(692.70,0) scale(0.9947,1)" x="-1" y="169" font-family="'Liberation Sans', Arial, sans-serif" font-size="13.5" font-weight="normal"  textLength="20.25" lengthAdjust="spacing">Dst</text>
<text transform="translate(626.00,0) scale(1.0728,1)" x="-1" y="244" font-family="'Liberation Sans', Arial, sans-serif" font-size="13.5" font-weight="normal"  textLength="58.61" lengthAdjust="spacing">(min Dst)</text>
<text transform="translate(626.50,0) scale(1.0446,1)" x="-1" y="344" font-family="'Liberation Sans', Arial, sans-serif" font-size="13.5" font-weight="normal"  textLength="84.54" lengthAdjust="spacing">Bz (nT, GSM)</text>
<text transform="translate(626.00,0) scale(1.1203,1)" x="0" y="425" font-family="'Liberation Sans', Arial, sans-serif" font-size="13.5" font-weight="normal"  textLength="56.15" lengthAdjust="spacing">V (km/s)</text>
<text transform="translate(565.80,0) scale(0.9732,1)" x="-1" y="552" font-family="'Liberation Sans', Arial, sans-serif" font-size="13.5" font-weight="normal"  textLength="57.77" lengthAdjust="spacing">DSCOVR</text>
<text transform="translate(486.60,0) scale(1.1261,1)" x="-1" y="569" font-family="'Liberation Sans', Arial, sans-serif" font-size="14" font-weight="normal"  textLength="26.52" lengthAdjust="spacing">L1&#8722;</text>
<text transform="translate(158.60,0) scale(1.0816,1)" x="-1" y="615" font-family="'Liberation Sans', Arial, sans-serif" font-size="15" font-weight="normal"  textLength="94.55" lengthAdjust="spacing">iki.cosmos.ru</text>
<text transform="translate(602.70,0) scale(0.9562,1)" x="-1" y="597" font-family="'Liberation Sans', Arial, sans-serif" font-size="13" font-weight="normal"  textLength="17.34" lengthAdjust="spacing">UT</text>
<text transform="translate(635.40,0) scale(1.0901,1)" x="-1" y="597" font-family="'Liberation Sans', Arial, sans-serif" font-size="13" font-weight="normal"  textLength="114.11" lengthAdjust="spacing">18:05, 15.09.2025</text>
<text transform="translate(602.70,0) scale(0.9741,1)" x="-1" y="614" font-family="'Liberation Sans', Arial, sans-serif" font-size="13" font-weight="normal"  textLength="28.17" lengthAdjust="spacing">MSK</text>
<text transform="translate(634.80,0) scale(1.0928,1)" x="-1" y="614" font-family="'Liberation Sans', Arial, sans-serif" font-size="13" font-weight="normal"  textLength="114.38" lengthAdjust="spacing">21:05, 15.09.2025</text>
<text transform="translate(604.00,0) scale(1.0437,1)" x="-1" y="516" font-family="'Liberation Sans', Arial, sans-serif" font-size="14" font-weight="normal"  textLength="118.17" lengthAdjust="spacing">14.09&#8722;15.09.2025</text>
<text transform="translate(604.00,0) scale(1.0437,1)" x="-1" y="529" font-family="'Liberation Sans', Arial, sans-serif" font-size="14" font-weight="normal"  textLength="118.17" lengthAdjust="spacing">14.09&#8722;16.09.2025</text>
<text transform="translate(38.00,0) scale(1.0000,1)" x="-1" y="515" font-family="'Liberation Sans', Arial, sans-serif" font-size="12.5" font-weight="bold"  textLength="16.67" lengthAdjust="spacing">UT</text>
<text transform="translate(38.00,0) scale(1.0190,1)" x="-1" y="528" font-family="'Liberation Sans', Arial, sans-serif" font-size="12.5" font-weight="bold"  textLength="28.28" lengthAdjust="spacing">MSK</text>
<text transform="translate(67.00,0) scale(0.9625,1)" x="0" y="106" font-family="'Liberation Sans', Arial, sans-serif" font-size="14.5" font-weight="normal"  textLength="8.08" lengthAdjust="spacing">0</text>
<text transform="translate(37.00,0) scale(1.1072,1)" x="-1" y="150" font-family="'Liberation Sans', Arial, sans-serif" font-size="14.5" font-weight="normal"  textLength="35.99" lengthAdjust="spacing">&#8722;100</text>
<text transform="translate(37.00,0) scale(1.1072,1)" x="-1" y="194" font-family="'Liberation Sans', Arial, sans-serif" font-size="14.5" font-weight="normal"  textLength="35.99" lengthAdjust="spacing">&#8722;200</text>
<text transform="translate(37.00,0) scale(1.1072,1)" x="-1" y="238" font-family="'Liberation Sans', Arial, sans-serif" font-size="14.5" font-weight="normal"  textLength="35.99" lengthAdjust="spacing">&#8722;300</text>
<text transform="translate(37.00,0) scale(1.1072,1)" x="-1" y="281" font-family="'Liberation Sans', Arial, sans-serif" font-size="14.5" font-weight="normal"  textLength="35.99" lengthAdjust="spacing">&#8722;400</text>
<text transform="translate(37.00,0) scale(1.1072,1)" x="-1" y="320" font-family="'Liberation Sans', Arial, sans-serif" font-size="14.5" font-weight="normal"  textLength="35.99" lengthAdjust="spacing">&#8722;500</text>
<text transform="translate(58.00,0) scale(1.0328,1)" x="-1" y="343.5" font-family="'Liberation Sans', Arial, sans-serif" font-size="14.5" font-weight="normal"  textLength="16.63" lengthAdjust="spacing">10</text>
<text transform="translate(66.80,0) scale(0.9000,1)" x="0" y="363.3" font-family="'Liberation Sans', Arial, sans-serif" font-size="14.5" font-weight="normal"  textLength="8.08" lengthAdjust="spacing">0</text>
<text transform="translate(45.00,0) scale(1.1229,1)" x="-1" y="383.1" font-family="'Liberation Sans', Arial, sans-serif" font-size="14.5" font-weight="normal"  textLength="27.44" lengthAdjust="spacing">&#8722;10</text>
<text transform="translate(45.00,0) scale(1.1229,1)" x="-1" y="403" font-family="'Liberation Sans', Arial, sans-serif" font-size="14.5" font-weight="normal"  textLength="27.44" lengthAdjust="spacing">&#8722;20</text>
<text transform="translate(47.20,0) scale(1.0693,1)" x="-1" y="418.7" font-family="'Liberation Sans', Arial, sans-serif" font-size="14.5" font-weight="normal"  textLength="25.80" lengthAdjust="spacing">800</text>
<text transform="translate(47.20,0) scale(1.0693,1)" x="-1" y="431.6" font-family="'Liberation Sans', Arial, sans-serif" font-size="14.5" font-weight="normal"  textLength="25.80" lengthAdjust="spacing">700</text>
<text transform="translate(47.20,0) scale(1.0693,1)" x="-1" y="447.4" font-family="'Liberation Sans', Arial, sans-serif" font-size="14.5" font-weight="normal"  textLength="25.80" lengthAdjust="spacing">600</text>
<text transform="translate(47.20,0) scale(1.0693,1)" x="-1" y="462.5" font-family="'Liberation Sans', Arial, sans-serif" font-size="14.5" font-weight="normal"  textLength="25.80" lengthAdjust="spacing">500</text>
<text transform="translate(47.20,0) scale(1.0468,1)" x="0" y="477.6" font-family="'Liberation Sans', Arial, sans-serif" font-size="14.5" font-weight="normal"  textLength="25.33" lengthAdjust="spacing">400</text>
<text transform="translate(47.20,0) scale(1.0693,1)" x="-1" y="493.5" font-family="'Liberation Sans', Arial, sans-serif" font-size="14.5" font-weight="normal"  textLength="25.80" lengthAdjust="spacing">300</text>
<text x="70.79" y="516" font-family="'Liberation Sans', Arial, sans-serif" font-size="14.5" font-weight="normal"  textLength="19.60" lengthAdjust="spacingAndGlyphs">18</text>
<text x="70.79" y="529" font-family="'Liberation Sans', Arial, sans-serif" font-size="14.5" font-weight="normal"  textLength="19.60" lengthAdjust="spacingAndGlyphs">21</text>
<text x="142.79" y="516" font-family="'Liberation Sans', Arial, sans-serif" font-size="14.5" font-weight="normal"  textLength="19.60" lengthAdjust="spacingAndGlyphs">22</text>
<text x="144.00" y="529" font-family="'Liberation Sans', Arial, sans-serif" font-size="14.5" font-weight="normal"  textLength="18.29" lengthAdjust="spacingAndGlyphs">01</text>
<text x="216.00" y="516" font-family="'Liberation Sans', Arial, sans-serif" font-size="14.5" font-weight="normal"  textLength="18.29" lengthAdjust="spacingAndGlyphs">02</text>
<text x="216.00" y="529" font-family="'Liberation Sans', Arial, sans-serif" font-size="14.5" font-weight="normal"  textLength="17.15" lengthAdjust="spacingAndGlyphs">05</text>
<text x="288.00" y="516" font-family="'Liberation Sans', Arial, sans-serif" font-size="14.5" font-weight="normal"  textLength="17.15" lengthAdjust="spacingAndGlyphs">06</text>
<text x="288.00" y="529" font-family="'Liberation Sans', Arial, sans-serif" font-size="14.5" font-weight="normal"  textLength="18.29" lengthAdjust="spacingAndGlyphs">09</text>
<text x="359.87" y="516" font-family="'Liberation Sans', Arial, sans-serif" font-size="14.5" font-weight="normal"  textLength="18.29" lengthAdjust="spacingAndGlyphs">10</text>
<text x="359.79" y="529" font-family="'Liberation Sans', Arial, sans-serif" font-size="14.5" font-weight="normal"  textLength="19.60" lengthAdjust="spacingAndGlyphs">13</text>
<text x="431.87" y="516" font-family="'Liberation Sans', Arial, sans-serif" font-size="14.5" font-weight="normal"  textLength="18.29" lengthAdjust="spacingAndGlyphs">14</text>
<text x="431.79" y="529" font-family="'Liberation Sans', Arial, sans-serif" font-size="14.5" font-weight="normal"  textLength="19.60" lengthAdjust="spacingAndGlyphs">17</text>
<text x="503.79" y="516" font-family="'Liberation Sans', Arial, sans-serif" font-size="14.5" font-weight="normal"  textLength="19.60" lengthAdjust="spacingAndGlyphs">18</text>
<text x="503.79" y="529" font-family="'Liberation Sans', Arial, sans-serif" font-size="14.5" font-weight="normal"  textLength="19.60" lengthAdjust="spacingAndGlyphs">21</text>
<text x="575.79" y="516" font-family="'Liberation Sans', Arial, sans-serif" font-size="14.5" font-weight="normal"  textLength="19.60" lengthAdjust="spacingAndGlyphs">22</text>
<text x="577.00" y="529" font-family="'Liberation Sans', Arial, sans-serif" font-size="14.5" font-weight="normal"  textLength="18.29" lengthAdjust="spacingAndGlyphs">01</text>
<text transform="translate(24,230.70) rotate(-90)" x="0" y="0" font-family="'Liberation Sans', Arial, sans-serif" font-size="15" textLength="59.38" lengthAdjust="spacingAndGlyphs">Dst (nT)</text>
<text transform="translate(31,392.96) rotate(-90)" x="0" y="0" font-family="'Liberation Sans', Arial, sans-serif" font-size="15" textLength="56.91" lengthAdjust="spacingAndGlyphs">Bz (nT)</text>
<text transform="translate(34,487.60) rotate(-90)" x="0" y="0" font-family="'Liberation Sans', Arial, sans-serif" font-size="15" textLength="70.65" lengthAdjust="spacingAndGlyphs">V (km/s)</text>
</svg>
</body></html>
